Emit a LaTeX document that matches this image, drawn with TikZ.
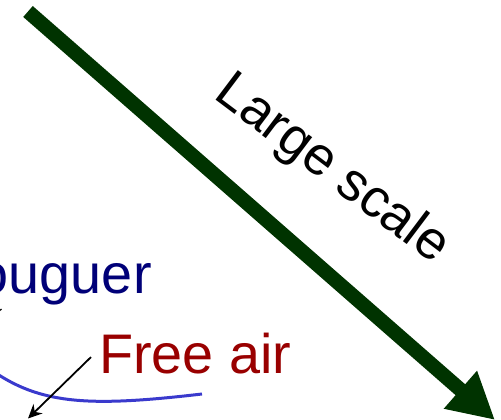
\documentclass[tikz,border=0pt]{standalone}
\usepackage{fontspec}
\setmainfont{Liberation Sans}
\usetikzlibrary{arrows.meta}
\definecolor{scalegreen}{RGB}{0,51,0}
\definecolor{bouguerblue}{RGB}{0,0,120}
\definecolor{freeairred}{RGB}{153,0,0}
\definecolor{curveblue}{RGB}{58,58,205}
\begin{document}
\begin{tikzpicture}[x=1bp,y=1bp,line cap=butt,line join=miter,>=Stealth]
			\useasboundingbox (0,0) rectangle (501,419);
			\tikzset{txt/.style={inner sep=0pt,anchor=base west}}
			% big arrow
			\coordinate (lsstart) at (28,407.5);
			\coordinate (lsend) at (495,-1);
			\draw[scalegreen,line width=14.5bp,-{Triangle[length=46bp,width=47bp]}] (lsstart) -- (lsend);
			\node[txt,rotate=-37,font=\fontsize{54}{60}\selectfont] (large) at (212,321.5) {Large scale};
			% anomalies
			\node[txt,text=bouguerblue,font=\fontsize{56}{60}\selectfont] (bouguer) at (-59.5,126) {Bouguer};
			\node[txt,text=freeairred,font=\fontsize{56}{60}\selectfont] (freeair) at (99,46) {Free air};
			\draw[curveblue,line width=3bp] (-10,50) .. controls (40,14) and (90,12) .. (202,25);
			\coordinate (fatip) at (28,0.5);
			\draw[->,line width=1.8bp,-{Stealth[length=14bp,width=13bp]}] (freeair.west) ++(-8,-4) -- (fatip);
			\coordinate (bgtip) at (1.5,110);
			\draw[line width=1.2bp] (-3,106) -- (bgtip);
		\end{tikzpicture}
\end{document}
